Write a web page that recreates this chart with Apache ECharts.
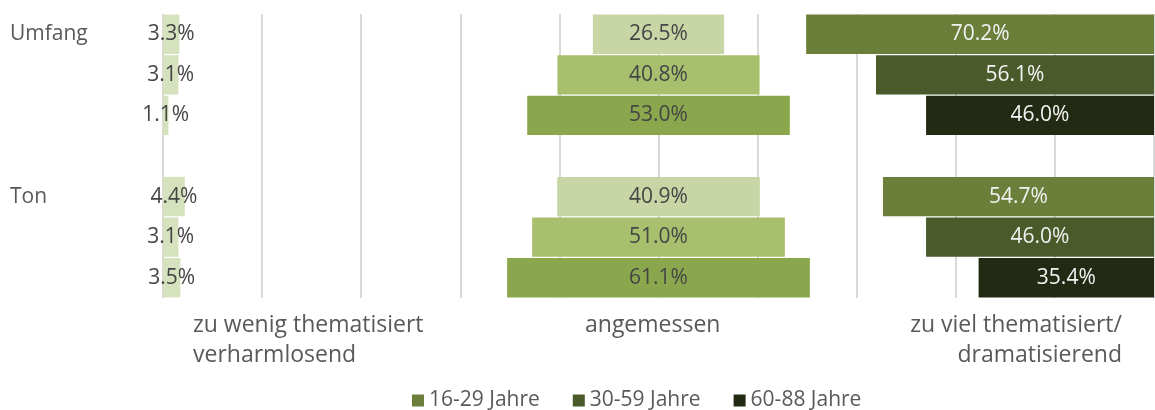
<!DOCTYPE html>
<html>
<head>
<meta charset="utf-8">
<script src="https://cdn.jsdelivr.net/npm/echarts@6/dist/echarts.min.js"></script>
<style>
  html, body { margin: 0; padding: 0; background: #fff; }
  #chart { width: 1155px; height: 410px; }
</style>
</head>
<body>
<div id="chart"></div>
<script>
// data
var themen = ['Umfang', 'Ton'];
var altersgruppen = ['16-29 Jahre', '30-59 Jahre', '60-88 Jahre'];

var zuWenigUmfang = [3.3, 3.1, 1.1];
var angemessenUmfang = [26.5, 40.8, 53.0];
var zuVielUmfang = [70.2, 56.1, 46.0];

var zuWenigTon = [4.4, 3.1, 3.5];
var angemessenTon = [40.9, 51.0, 61.1];
var zuVielTon = [54.7, 46.0, 35.4];

// colours per row (top to bottom inside each group)
var farbenLinks = ['#d6e1bd', '#d6e1bd', '#d6e1bd'];
var farbenMitte = ['#c8d5a5', '#a8bf6e', '#8aa74d'];
var farbenRechts = ['#6b7f3a', '#4a5a2a', '#232a13'];

var fontName = '"Open Sans", "Noto Sans", sans-serif';
var grau = '#595959';

// rows: 3 Umfang, gap, 3 Ton
var rows = [];
var links = [], mitte = [], rechts = [];
function addGroup(thema, l, m, r) {
  for (var i = 0; i < 3; i++) {
    rows.push(thema + '|' + i);
    links.push(l[i]); mitte.push(m[i]); rechts.push(r[i]);
  }
}
addGroup(themen[0], zuWenigUmfang, angemessenUmfang, zuVielUmfang);
rows.push('gap'); links.push(null); mitte.push(null); rechts.push(null);
addGroup(themen[1], zuWenigTon, angemessenTon, zuVielTon);

// invisible spacers so that the middle panel is centred on 100 and the right one ends at 200
var luecke1 = links.map(function (v, i) { return v == null ? null : 100 - v - mitte[i] / 2; });
var luecke2 = mitte.map(function (v, i) { return v == null ? null : 100 - v / 2 - rechts[i]; });

function rowIndex(dataIndex) {
  var name = rows[dataIndex];
  return name === 'gap' ? 0 : +name.split('|')[1];
}

function fmt(p) { return p.value.toFixed(1) + '%'; }

var chart = echarts.init(document.getElementById('chart'));

var labelDark = { show: true, position: 'inside', formatter: fmt, color: '#454545', fontSize: 21, fontFamily: fontName };
var labelLight = { show: true, position: 'inside', formatter: fmt, color: '#f2f2f2', fontSize: 21, fontFamily: fontName };

var titelStil = { fill: grau, fontSize: 23, fontFamily: fontName };

var option = {
  animation: false,
  grid: { left: 163, right: 1, top: 14, bottom: 112 },
  xAxis: {
    type: 'value',
    min: 0,
    max: 200,
    interval: 20,
    axisLabel: { show: false },
    axisLine: { show: false },
    axisTick: { show: false },
    splitLine: { lineStyle: { color: '#d9d9d9', width: 2 } }
  },
  yAxis: {
    type: 'category',
    inverse: true,
    data: rows,
    axisLine: { show: false },
    axisTick: { show: false },
    axisLabel: {
      align: 'left',
      margin: 153,
      color: grau,
      fontSize: 21,
      fontFamily: fontName,
      formatter: function (v) {
        var parts = v.split('|');
        return parts[1] === '0' ? parts[0] : '';
      }
    }
  },
  legend: {
    top: 385,
    left: 407,
    icon: 'rect',
    itemWidth: 12,
    itemHeight: 12,
    itemGap: 33,
    textStyle: { color: grau, fontSize: 21, fontFamily: fontName },
    data: altersgruppen
  },
  series: [
    {
      name: 'zu wenig', type: 'bar', stack: 'all', data: links, barCategoryGap: '3%',
      itemStyle: { color: function (p) { return farbenLinks[rowIndex(p.dataIndex)]; } },
      label: labelDark
    },
    {
      name: 'l1', type: 'bar', stack: 'all', data: luecke1, silent: true,
      itemStyle: { color: 'rgba(0,0,0,0)' }
    },
    {
      name: 'angemessen', type: 'bar', stack: 'all', data: mitte,
      itemStyle: { color: function (p) { return farbenMitte[rowIndex(p.dataIndex)]; } },
      label: labelDark
    },
    {
      name: 'l2', type: 'bar', stack: 'all', data: luecke2, silent: true,
      itemStyle: { color: 'rgba(0,0,0,0)' }
    },
    {
      name: 'zu viel', type: 'bar', stack: 'all', data: rechts,
      itemStyle: { color: function (p) { return farbenRechts[rowIndex(p.dataIndex)]; } },
      label: labelLight
    },
    // legend entries only
    { name: altersgruppen[0], type: 'line', data: [], itemStyle: { color: farbenRechts[0] } },
    { name: altersgruppen[1], type: 'line', data: [], itemStyle: { color: farbenRechts[1] } },
    { name: altersgruppen[2], type: 'line', data: [], itemStyle: { color: farbenRechts[2] } }
  ],
  graphic: [
    { type: 'text', left: 193, top: 314, style: Object.assign({ text: 'zu wenig thematisiert' }, titelStil) },
    { type: 'text', left: 193, top: 344, style: Object.assign({ text: 'verharmlosend' }, titelStil) },
    { type: 'text', left: 585, top: 314, style: Object.assign({ text: 'angemessen' }, titelStil) },
    { type: 'text', right: 33, top: 314, style: Object.assign({ text: 'zu viel thematisiert/' }, titelStil) },
    { type: 'text', right: 33, top: 344, style: Object.assign({ text: 'dramatisierend' }, titelStil) }
  ]
};

chart.setOption(option);
</script>
</body>
</html>
